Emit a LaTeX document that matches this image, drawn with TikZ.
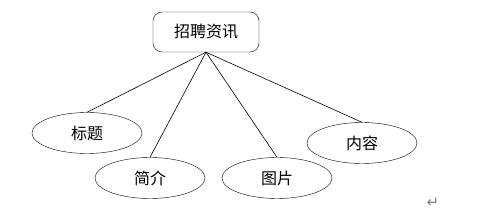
\documentclass[tikz,border=0pt]{standalone}
\usepackage{fontspec}
\newfontfamily\cjk{Noto Sans CJK SC}
\newfontfamily\dejavu{DejaVu Sans}
\usetikzlibrary{shapes.geometric}

\begin{document}
\begin{tikzpicture}[x=1pt,y=-1pt,font=\cjk\fontsize{16}{19}\selectfont,
    top/.style={draw,rounded corners=9pt,minimum width=106pt,minimum height=40pt,inner sep=0pt},
    attr/.style={draw,ellipse,minimum width=110pt,minimum height=41pt,inner sep=0pt},
    l/.style={semithick}]
    \useasboundingbox (0,0) rectangle (482,221);
    \node[top] (job) at (206,32) {招聘资讯};
    \node[attr] (title) at (87,133) {标题};
    \node[attr] (intro) at (150,178) {简介};
    \node[attr] (pic) at (277,178) {图片};
    \node[attr] (content) at (362,143) {内容};
    \draw[l] (job.south)--(title.north);
    \draw[l] (job.south)--(intro.north);
    \draw[l] (job.south)--(pic.north);
    \draw[l] (job.south)--(content.north);
    \node[text=black!50,font=\dejavu\fontsize{15}{17}\selectfont] (ret) at (433,203) {↵};
  \end{tikzpicture}
\end{document}
